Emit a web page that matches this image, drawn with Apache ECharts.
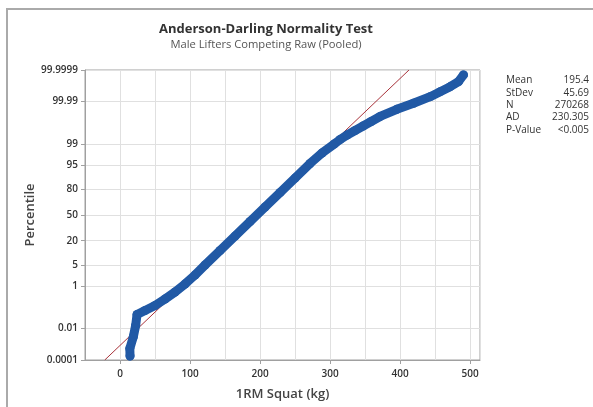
<!DOCTYPE html>
<html><head><meta charset="utf-8">
<script src="https://cdn.jsdelivr.net/npm/echarts@6/dist/echarts.min.js"></script>
<style>html,body{margin:0;padding:0;background:#fff}#c{width:593px;height:407px}</style>
</head><body><div id="c"></div>
<script>
// ---- data ----
const squatKg = [14.3, 14.0, 19.0, 22.4, 24.3, 35.7, 50.0, 64.3, 78.6, 92.9, 107.1, 121.4, 142.9, 164.3, 185.7, 207.1, 228.6, 250.0, 271.4, 288.6, 305.7, 314.3, 324.3, 335.7, 347.1, 358.6, 371.4, 395.3, 419.0, 442.9, 457.1, 471.4, 483.3, 490.4];
const percentile = [0.00019, 0.0006, 0.0033, 0.015, 0.0553, 0.0871, 0.150, 0.294, 0.579, 1.19, 2.46, 5.06, 12.2, 24.5, 41.6, 60.3, 77.0, 88.7, 95.44, 97.9, 99.0, 99.334, 99.564, 99.720, 99.824, 99.8915, 99.938, 99.9736, 99.9875, 99.99476, 99.99736, 99.99871, 99.99938, 99.99978];
const yTickLabels = ['0.0001', '0.01', '1', '5', '20', '50', '80', '95', '99', '99.99', '99.9999'];
const xTickLabels = [0, 100, 200, 300, 400, 500];
const statNames = ['Mean', 'StDev', 'N', 'AD', 'P-Value'];
const statValues = ['195.4', '45.69', '270268', '230.305', '<0.005'];
const fitMean = 195.4, fitStDev = 45.69;
const titleText = 'Anderson-Darling Normality Test';
const subtitleText = 'Male Lifters Competing Raw (Pooled)';

// inverse standard normal CDF (Acklam)
function probit(p) {
  const a = [-3.969683028665376e+01, 2.209460984245205e+02, -2.759285104469687e+02, 1.383577518672690e+02, -3.066479806614716e+01, 2.506628277459239e+00];
  const b = [-5.447609879822406e+01, 1.615858368580409e+02, -1.556989798598866e+02, 6.680131188771972e+01, -1.328068155288572e+01];
  const c = [-7.784894002430293e-03, -3.223964580411365e-01, -2.400758277161838e+00, -2.549671010229583e+00, 4.374664141464968e+00, 2.938163982698783e+00];
  const d = [7.784695709041462e-03, 3.224671290700398e-01, 2.445134137142996e+00, 3.754408661907416e+00];
  const pl = 0.02425, ph = 1 - pl;
  let q, r;
  if (p < pl) { q = Math.sqrt(-2 * Math.log(p)); return (((((c[0]*q+c[1])*q+c[2])*q+c[3])*q+c[4])*q+c[5]) / ((((d[0]*q+d[1])*q+d[2])*q+d[3])*q+1); }
  if (p > ph) { q = Math.sqrt(-2 * Math.log(1 - p)); return -(((((c[0]*q+c[1])*q+c[2])*q+c[3])*q+c[4])*q+c[5]) / ((((d[0]*q+d[1])*q+d[2])*q+d[3])*q+1); }
  q = p - 0.5; r = q * q;
  return (((((a[0]*r+a[1])*r+a[2])*r+a[3])*r+a[4])*r+a[5])*q / (((((b[0]*r+b[1])*r+b[2])*r+b[3])*r+b[4])*r+1);
}

const yTickValues = yTickLabels.map(s => probit(parseFloat(s) / 100));
const yMin = yTickValues[0], yMax = yTickValues[yTickValues.length - 1];
const blueData = squatKg.map((x, i) => [x, probit(percentile[i] / 100)]);
const fitData = [[fitMean + fitStDev * yMin, yMin], [fitMean + fitStDev * yMax, yMax]];

function yLabel(v) {
  let best = 0, bd = Infinity;
  yTickValues.forEach((t, i) => { const dd = Math.abs(t - v); if (dd < bd) { bd = dd; best = i; } });
  return yTickLabels[best];
}

const FONT = 'Open Sans';
const BLUE = '#2159a5';
const graphics = [
  { type: 'rect', shape: { x: 7, y: 9, width: 620, height: 420 }, style: { fill: 'none', stroke: '#aaaaaa', lineWidth: 2 }, silent: true }
];
statNames.forEach((n, i) => {
  const y = 80.5 + i * 12.3;
  graphics.push({ type: 'text', x: 506, y: y, style: { text: n, font: '10px "' + FONT + '"', fill: '#333', textAlign: 'left', textVerticalAlign: 'middle' } });
  graphics.push({ type: 'text', x: 589, y: y, style: { text: statValues[i], font: '10px "' + FONT + '"', fill: '#333', textAlign: 'right', textVerticalAlign: 'middle' } });
});

const chart = echarts.init(document.getElementById('c'), null, { renderer: 'canvas' });
chart.setOption({
  animation: false,
  backgroundColor: '#fff',
  textStyle: { fontFamily: FONT },
  title: [
    { text: titleText, left: 266, top: 23, textAlign: 'center', padding: 0,
      textStyle: { fontFamily: FONT, fontSize: 13, fontWeight: 'bold', color: '#333' } },
    { text: subtitleText, left: 266, top: 39, textAlign: 'center', padding: 0,
      textStyle: { fontFamily: FONT, fontSize: 11.2, fontWeight: 'normal', color: '#555' } }
  ],
  grid: { left: 85, right: 113, top: 70, bottom: 47, show: true, borderColor: '#a0a0a0', borderWidth: 1, containLabel: false },
  xAxis: [
    { type: 'value', min: -50, max: 514, interval: 50, position: 'bottom',
      axisLine: { show: true, onZero: false, lineStyle: { color: '#a0a0a0' } },
      axisTick: { show: false }, axisLabel: { show: false },
      splitLine: { show: true, lineStyle: { color: '#e0e0e0', width: 1 } } },
    { type: 'value', min: -50, max: 514, position: 'bottom',
      axisLine: { show: false, onZero: false },
      axisTick: { show: true, customValues: xTickLabels, length: 4, lineStyle: { color: '#a0a0a0' } },
      axisLabel: { show: true, customValues: xTickLabels, fontSize: 10, fontWeight: 600, color: '#333', margin: 9, fontFamily: FONT },
      splitLine: { show: false },
      name: '1RM Squat (kg)', nameLocation: 'middle', nameGap: 28, nameMoveOverlap: false,
      nameTextStyle: { fontSize: 13, fontWeight: 600, color: '#444', fontFamily: FONT } }
  ],
  yAxis: {
    type: 'value', min: yMin, max: yMax,
    axisLine: { show: true, onZero: false, lineStyle: { color: '#a0a0a0' } },
    axisTick: { show: true, customValues: yTickValues, length: 4, lineStyle: { color: '#a0a0a0' } },
    axisLabel: { show: true, customValues: yTickValues, formatter: yLabel, fontSize: 10, fontWeight: 600, color: '#333', margin: 7, fontFamily: FONT },
    splitLine: { show: true, lineStyle: { color: '#e0e0e0', width: 1 } },
    name: 'Percentile', nameLocation: 'middle', nameGap: 48, nameMoveOverlap: false,
    nameTextStyle: { fontSize: 13, fontWeight: 600, color: '#444', fontFamily: FONT }
  },
  graphic: graphics,
  series: [
    { type: 'line', xAxisIndex: 0, data: fitData, symbol: 'none', silent: true, z: 2,
      lineStyle: { color: '#a8323a', width: 1 } },
    { type: 'line', xAxisIndex: 0, data: blueData, symbol: 'circle', symbolSize: 9, showSymbol: true, silent: true, z: 3,
      itemStyle: { color: BLUE, borderWidth: 0 },
      lineStyle: { color: BLUE, width: 9, cap: 'round', join: 'round' } }
  ]
});
</script></body></html>
